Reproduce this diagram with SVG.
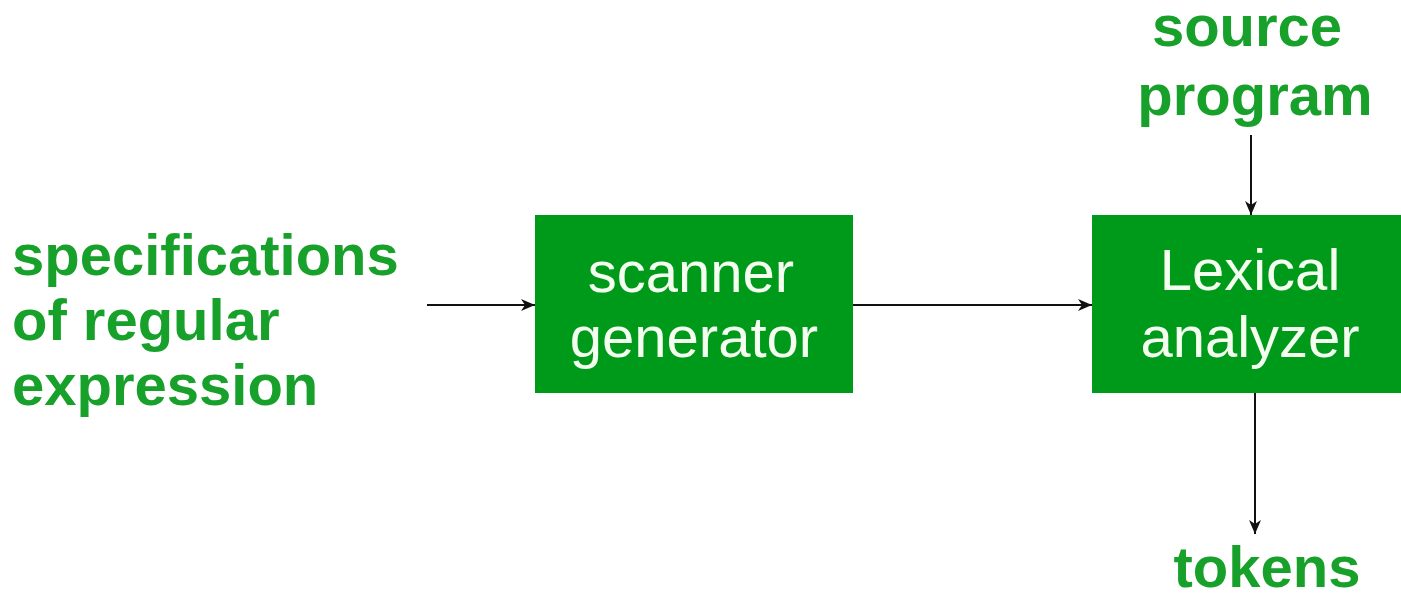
<svg xmlns="http://www.w3.org/2000/svg" width="1401" height="596" viewBox="0 0 1401 596">
<defs>
<marker id="ah" viewBox="0 0 14 12" refX="14" refY="6" markerWidth="14" markerHeight="12" markerUnits="userSpaceOnUse" orient="auto">
<path d="M0,0 L14,6 L0,12 L4,6 Z" fill="#111"/>
</marker>
<style>
.box{fill:#009a1a}
.lbl{font-family:"Liberation Sans",Arial,sans-serif;font-size:58px;font-weight:bold;fill:#17a02a}
.in{font-family:"Liberation Sans",Arial,sans-serif;font-size:58px;fill:#f4fff0;text-anchor:middle}
.c{stroke:#111;stroke-width:2;fill:none;marker-end:url(#ah)}
</style>
</defs>
<rect width="1401" height="596" fill="#fff"/>
<g id="spec">
<text class="lbl" x="12" y="275">specifications</text>
<text class="lbl" x="12" y="340">of regular</text>
<text class="lbl" x="12" y="405">expression</text>
</g>
<g id="scanner">
<rect class="box" x="535" y="215" width="318" height="178"/>
<text class="in" x="691" y="292">scanner</text>
<text class="in" x="694" y="357">generator</text>
</g>
<g id="lexical">
<rect class="box" x="1092" y="215" width="320" height="178"/>
<text class="in" x="1250" y="290">Lexical</text>
<text class="in" x="1250" y="357">analyzer</text>
</g>
<g id="source">
<text class="lbl" x="1247" y="46" text-anchor="middle">source</text>
<text class="lbl" x="1255" y="115" text-anchor="middle">program</text>
</g>
<g id="tokens">
<text class="lbl" x="1267" y="587" text-anchor="middle">tokens</text>
</g>
<g id="connectors">
<line class="c" x1="427" y1="305" x2="535" y2="305"/>
<line class="c" x1="853" y1="305" x2="1092" y2="305"/>
<line class="c" x1="1251" y1="135" x2="1251" y2="215"/>
<line class="c" x1="1255" y1="393" x2="1255" y2="534"/>
</g>
</svg>
